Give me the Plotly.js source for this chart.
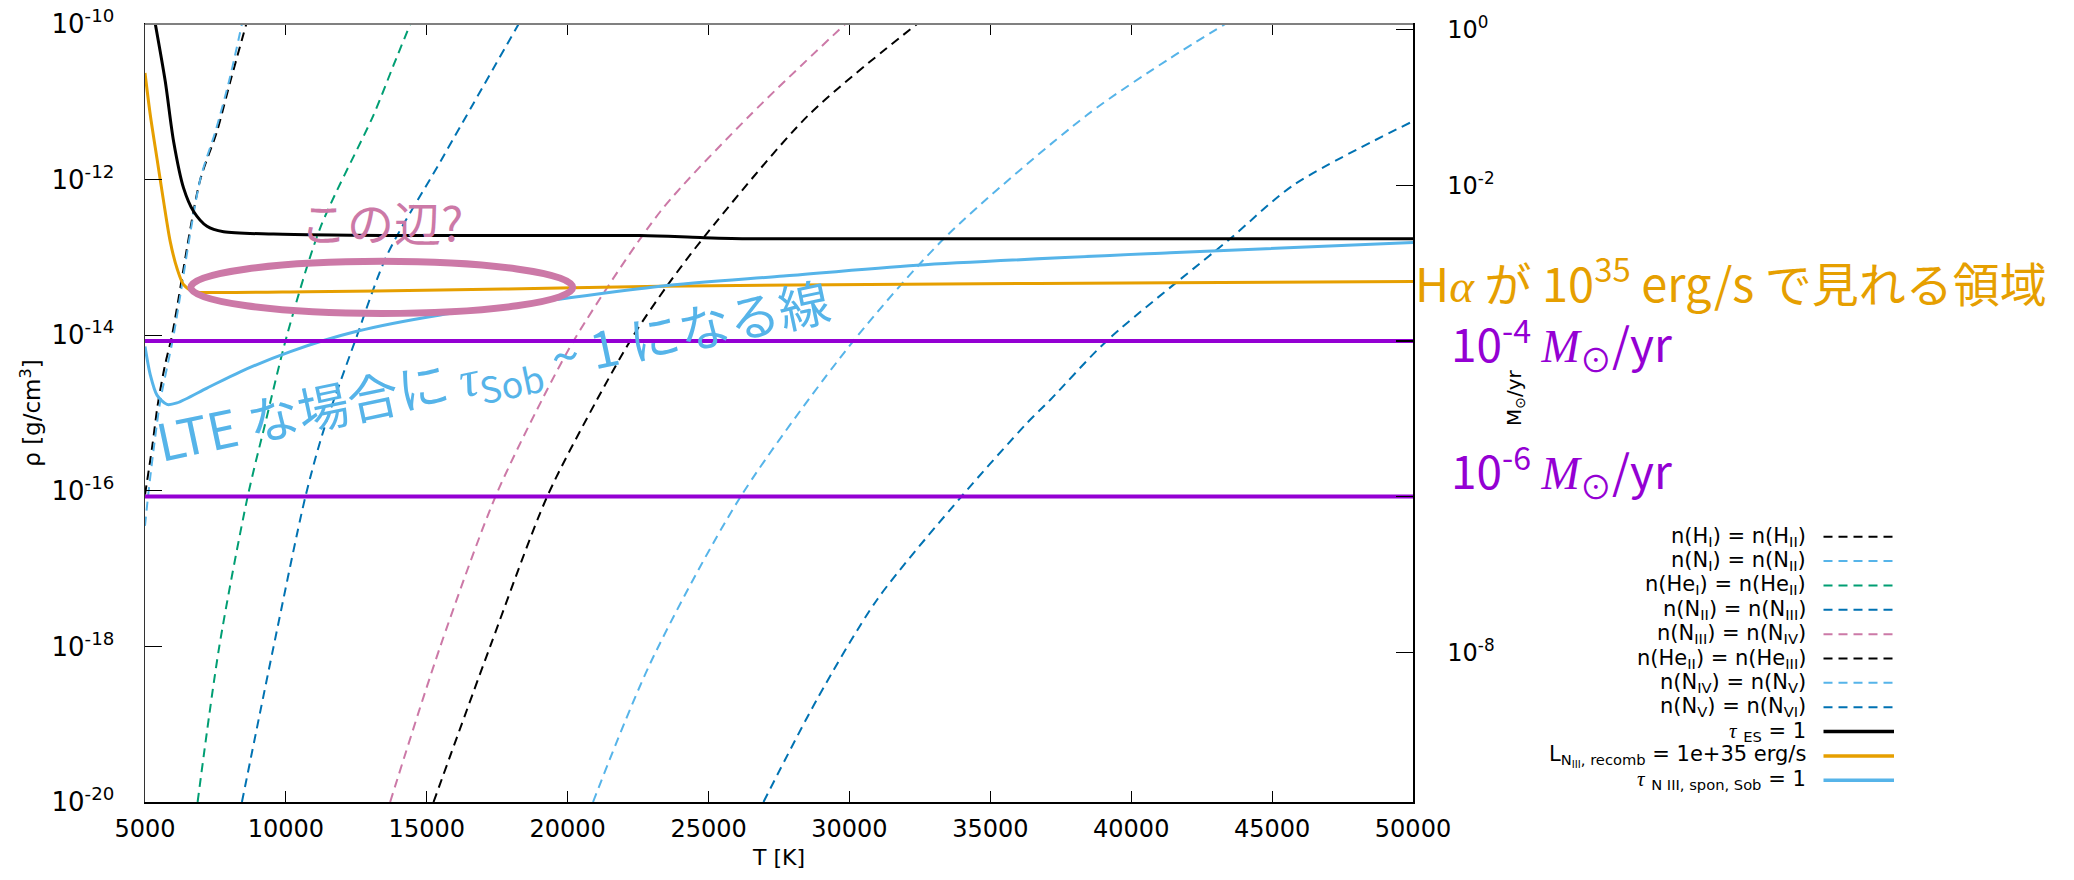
<!DOCTYPE html>
<html>
<head>
<meta charset="utf-8">
<script src="https://cdn.plot.ly/plotly-3.0.1.min.js"></script>
<style>
  html, body { margin: 0; padding: 0; background: #ffffff; }
  #chart { width: 2074px; height: 880px; }
</style>
</head>
<body>
<div id="chart"></div>
<script>
// ---- Ionisation-balance curves: temperature [K] and log10(rho [g/cm^3]) ----
const T_HI      = [5000, 5250, 5450, 5700, 5960, 6940, 7555, 8027, 8595];
const logRho_HI = [-16.05, -15.45, -14.9, -14.4, -14.0, -12.03, -11.38, -10.74, -10.0];

const T_NI      = [5000, 5130, 5330, 5540, 6015, 6960, 7500, 7980, 8440];
const logRho_NI = [-16.45, -16.0, -15.4, -14.85, -14.0, -12.0, -11.38, -10.74, -10.0];

const T_HeI      = [6867, 7637, 8640, 9270, 10040, 11220, 13110, 13820, 14415];
const logRho_HeI = [-20.0, -18.0, -16.08, -15.13, -14.0, -12.62, -11.17, -10.53, -10.0];

const T_NII      = [8440, 9565, 10690, 11340, 12460, 13590, 15480, 18260];
const logRho_NII = [-20.0, -18.0, -16.08, -15.22, -14.07, -12.97, -11.77, -10.0];

const T_NIII      = [13700, 15480, 17430, 19090, 20330, 23290, 26480, 29850];
const logRho_NIII = [-20.0, -18.0, -16.08, -14.83, -14.0, -12.41, -11.17, -10.0];

const T_HeII      = [15240, 17250, 19265, 21040, 22340, 23520, 24880, 28550, 32400];
const logRho_HeII = [-20.0, -18.0, -16.08, -14.83, -14.0, -13.37, -12.72, -11.17, -10.0];

const T_NIV      = [20900, 22940, 26130, 30150, 33460, 38430, 41380, 43340];
const logRho_NIV = [-20.0, -18.21, -16.08, -14.07, -12.72, -11.17, -10.44, -10.0];

const T_NV      = [26950, 28850, 30980, 33960, 36300, 37130, 39140, 43510, 45760, 50000];
const logRho_NV = [-20.0, -18.68, -17.40, -16.08, -15.13, -14.83, -14.07, -12.76, -12.07, -11.25];

// ---- Optical-depth / luminosity conditions ----
const T_tauES      = [5366, 5720, 6015, 6370, 6725, 7200, 7790, 9560, 14300, 22580, 24710, 26480, 30000, 40000, 50000];
const logRho_tauES = [-10.0, -10.74, -11.51, -12.11, -12.41, -12.60, -12.67, -12.70, -12.72, -12.72, -12.745, -12.76, -12.76, -12.76, -12.76];

const T_Lrec      = [5000, 5188, 5425, 5660, 5898, 6135, 6370, 6725, 7435, 10750, 15480, 20210, 23290, 32000, 41400, 50000];
const logRho_Lrec = [-10.63, -11.17, -11.73, -12.28, -12.80, -13.14, -13.35, -13.44, -13.45, -13.44, -13.42, -13.39, -13.37, -13.345, -13.325, -13.31];

const T_tauSob      = [5000, 5188, 5425, 5780, 6135, 7200, 8380, 10160, 12520, 15480, 19030, 23290, 27660, 32400, 41380, 50000];
const logRho_tauSob = [-14.145, -14.51, -14.77, -14.89, -14.87, -14.68, -14.47, -14.21, -13.95, -13.74, -13.57, -13.37, -13.24, -13.10, -12.94, -12.81];

// ---- Mass-loss rates marked on the right axis [Msun/yr] ----
const massLossRates = [1e-4, 1e-6];

// ---- Axis ticks ----
const xTickVals  = [5000, 10000, 15000, 20000, 25000, 30000, 35000, 40000, 45000, 50000];
const yTickVals  = [1e-20, 1e-18, 1e-16, 1e-14, 1e-12, 1e-10];
const yTickText  = ['10<sup>-20</sup>', '10<sup>-18</sup>', '10<sup>-16</sup>', '10<sup>-14</sup>', '10<sup>-12</sup>', '10<sup>-10</sup>'];
const y2TickVals = [1, 1e-2, 1e-4, 1e-6, 1e-8];
const y2TickText = ['10<sup>0</sup>', '10<sup>-2</sup>', '', '', '10<sup>-8</sup>'];

// ---- Colours ----
const C = {
  black: '#000000', sky: '#56b4e9', green: '#009e73', blue: '#0072b2',
  pink: '#cc79a7', orange: '#e69f00', purple: '#9400d3'
};

const TAU = '<span style="font-family:Liberation Serif"><i>τ</i></span>';

// Series definitions (label, data, style)
const series = [
  { name: 'n(H<sub>I</sub>) = n(H<sub>II</sub>)',     T: T_HI,   lr: logRho_HI,   color: C.black, dash: true },
  { name: 'n(N<sub>I</sub>) = n(N<sub>II</sub>)',     T: T_NI,   lr: logRho_NI,   color: C.sky,   dash: true },
  { name: 'n(He<sub>I</sub>) = n(He<sub>II</sub>)',   T: T_HeI,  lr: logRho_HeI,  color: C.green, dash: true },
  { name: 'n(N<sub>II</sub>) = n(N<sub>III</sub>)',   T: T_NII,  lr: logRho_NII,  color: C.blue,  dash: true },
  { name: 'n(N<sub>III</sub>) = n(N<sub>IV</sub>)',   T: T_NIII, lr: logRho_NIII, color: C.pink,  dash: true },
  { name: 'n(He<sub>II</sub>) = n(He<sub>III</sub>)', T: T_HeII, lr: logRho_HeII, color: C.black, dash: true },
  { name: 'n(N<sub>IV</sub>) = n(N<sub>V</sub>)',     T: T_NIV,  lr: logRho_NIV,  color: C.sky,   dash: true },
  { name: 'n(N<sub>V</sub>) = n(N<sub>VI</sub>)',     T: T_NV,   lr: logRho_NV,   color: C.blue,  dash: true },
  { name: TAU + ' <sub>ES</sub> = 1',                 T: T_tauES, lr: logRho_tauES, color: C.black, dash: false },
  { name: 'L<sub>N<sub>III</sub>, recomb</sub> = 1e+35 erg/s', T: T_Lrec, lr: logRho_Lrec, color: C.orange, dash: false },
  { name: TAU + ' <sub>N III, spon, Sob</sub> = 1',   T: T_tauSob, lr: logRho_tauSob, color: C.sky, dash: false }
];

const DASH = '9px,6px';

const traces = series.map(s => ({
  type: 'scatter', mode: 'lines', name: s.name,
  x: s.T, y: s.lr.map(v => Math.pow(10, v)),
  line: { color: s.color, width: s.dash ? 2 : 3, dash: s.dash ? DASH : 'solid', shape: 'spline', smoothing: 0.8 },
  hoverinfo: 'skip', showlegend: false, cliponaxis: true
}));

massLossRates.forEach(r => traces.push({
  type: 'scatter', mode: 'lines', x: [5000, 50000], y: [r, r], yaxis: 'y2',
  line: { color: C.purple, width: 4 }, hoverinfo: 'skip', showlegend: false
}));

// ---- Plot-area geometry (pixels) used for placing decorations ----
const PL = 145, PR = 1413, PT = 24, PB = 802;
const px = v => (v - PL) / (PR - PL);
const py = v => (PB - v) / (PB - PT);

const JP = 'Noto Sans CJK JP, Noto Sans, sans-serif';
const LATIN = 'DejaVu Sans, sans-serif';

const annotations = [];
const shapes = [];

// Hand-drawn legend: right-aligned labels with line samples to their right
series.forEach((s, i) => {
  const yRow = 536.7 + i * 24.36;
  annotations.push({
    xref: 'paper', yref: 'paper', x: px(1808), y: py(yRow),
    xanchor: 'right', yanchor: 'middle', showarrow: false,
    text: s.name, font: { family: LATIN, size: 21, color: '#000' }
  });
  shapes.push({
    type: 'line', xref: 'paper', yref: 'paper',
    x0: px(1823.5), x1: px(1894), y0: py(yRow), y1: py(yRow),
    line: { color: s.color, width: s.dash ? 2 : 3.5, dash: s.dash ? DASH : 'solid' }
  });
});

// Top frame edge in grey
shapes.push({ type: 'line', xref: 'paper', yref: 'paper', x0: 0, x1: 1, y0: 1, y1: 1,
  line: { color: '#808080', width: 2 } });

// Highlight ellipse around the low-temperature part of the recombination curve
shapes.push({ type: 'circle', xref: 'x', yref: 'y',
  x0: 6625, x1: 20180, y0: Math.pow(10, -13.72), y1: Math.pow(10, -13.05),
  line: { color: C.pink, width: 7 } });

// Right-axis title, set between the two mass-loss labels
annotations.push({
  xref: 'paper', yref: 'paper', x: px(1515), y: py(398), textangle: -90,
  xanchor: 'center', yanchor: 'middle', showarrow: false,
  text: 'M<sub>⊙</sub>/yr', font: { family: LATIN, size: 20, color: '#000' }
});

// Text notes
annotations.push({
  xref: 'paper', yref: 'paper', x: px(381), y: py(220), showarrow: false,
  xanchor: 'center', yanchor: 'middle',
  text: 'この辺?', font: { family: JP, size: 47, color: C.pink }
});
annotations.push({
  xref: 'paper', yref: 'paper', x: px(493), y: py(372), showarrow: false,
  xanchor: 'center', yanchor: 'middle', textangle: -12,
  text: 'LTE な場合に ' + TAU + '<sub>Sob</sub> ~ 1 になる線',
  font: { family: JP, size: 51, color: C.sky }
});
annotations.push({
  xref: 'paper', yref: 'paper', x: px(1414), y: py(280), showarrow: false,
  xanchor: 'left', yanchor: 'middle', borderpad: 0,
  text: 'H<span style="font-family:Liberation Serif"><i>α</i></span> が 10<sup>35</sup> erg/s で見れる領域',
  font: { family: JP, size: 47, color: C.orange }
});
const MSUN = '<span style="font-family:Liberation Serif"><i>M</i></span><sub>⊙</sub>/yr';
annotations.push({
  xref: 'paper', yref: 'paper', x: px(1450), y: py(343), showarrow: false,
  xanchor: 'left', yanchor: 'middle', borderpad: 0,
  text: '10<sup>-4</sup> ' + MSUN, font: { family: JP, size: 46, color: C.purple }
});
annotations.push({
  xref: 'paper', yref: 'paper', x: px(1450), y: py(471), showarrow: false,
  xanchor: 'left', yanchor: 'middle', borderpad: 0,
  text: '10<sup>-6</sup> ' + MSUN, font: { family: JP, size: 46, color: C.purple }
});

const layout = {
  width: 2074, height: 880,
  margin: { l: PL, r: 2074 - PR, t: PT, b: 880 - PB, pad: 0 },
  paper_bgcolor: '#ffffff', plot_bgcolor: '#ffffff',
  showlegend: false,
  font: { family: LATIN, size: 22, color: '#000' },
  xaxis: {
    range: [5000, 50000], tickvals: xTickVals, ticktext: xTickVals.map(String),
    ticks: 'inside', ticklen: 11, tickwidth: 1.2, tickcolor: '#000',
    showline: true, linecolor: '#000', linewidth: 1.5, mirror: 'ticks',
    showgrid: false, zeroline: false, ticklabelstandoff: 5,
    tickfont: { family: LATIN, size: 24 },
    title: { text: 'T [K]', font: { family: LATIN, size: 22 }, standoff: 7 }
  },
  yaxis: {
    type: 'log', range: [-20, -10], tickvals: yTickVals, ticktext: yTickText,
    ticks: 'inside', ticklen: 17, tickwidth: 1.2, tickcolor: '#000',
    showline: true, linecolor: '#333', linewidth: 1.5,
    showgrid: false, zeroline: false, ticklabelstandoff: 24,
    tickfont: { family: LATIN, size: 26 },
    title: { text: 'ρ [g/cm<sup>3</sup>]', font: { family: LATIN, size: 23 }, standoff: 4 }
  },
  yaxis2: {
    type: 'log', overlaying: 'y', side: 'right', range: [-9.925, 0.073],
    tickvals: y2TickVals, ticktext: y2TickText,
    ticks: 'inside', ticklen: 17, tickwidth: 1.2, tickcolor: '#000',
    showline: true, linecolor: '#000', linewidth: 1.5,
    showgrid: false, zeroline: false, ticklabelstandoff: 28,
    tickfont: { family: LATIN, size: 24 }
  },
  shapes: shapes,
  annotations: annotations
};

Plotly.newPlot('chart', traces, layout, { staticPlot: true, displayModeBar: false });
</script>
</body>
</html>
